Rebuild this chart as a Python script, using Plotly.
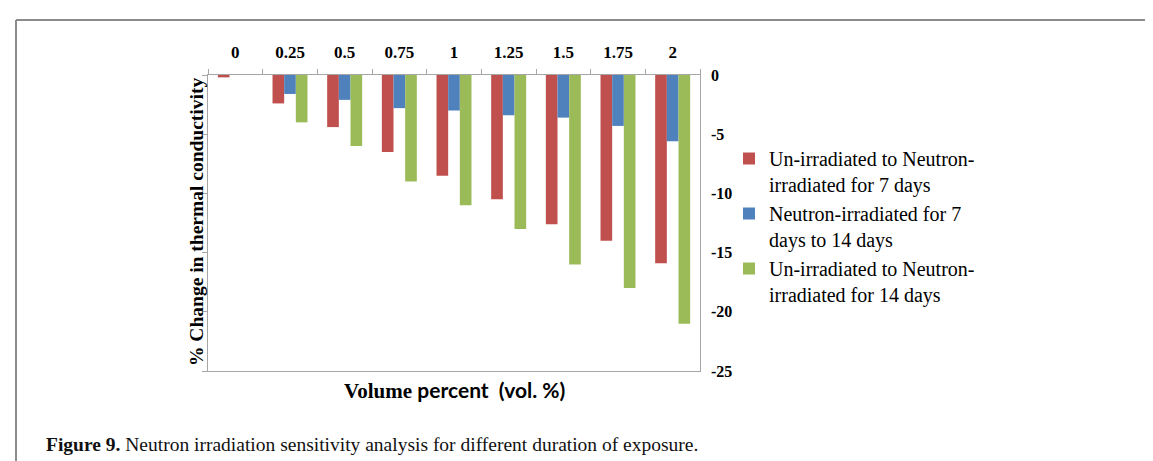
import plotly.graph_objects as go

categories = ["0", "0.25", "0.5", "0.75", "1", "1.25", "1.5", "1.75", "2"]
unirr_to_7d = [-0.2, -2.4, -4.4, -6.5, -8.5, -10.5, -12.6, -14.0, -15.9]
d7_to_14d = [0.0, -1.6, -2.1, -2.8, -3.0, -3.4, -3.6, -4.3, -5.6]
unirr_to_14d = [0.0, -4.0, -6.0, -9.0, -11.0, -13.0, -16.0, -18.0, -21.0]
y_ticks = [0, -5, -10, -15, -20, -25]
y_tick_text = ["0", "-5", "-10", "-15", "-20", "-25"]

names = [
    "Un-irradiated to Neutron-<br>irradiated for 7 days",
    "Neutron-irradiated for 7<br>days to 14 days",
    "Un-irradiated to Neutron-<br>irradiated for 14 days",
]
colors = ["#C0504D", "#4F81BD", "#9BBB59"]

W, H = 1153, 461
L, R, T, B = 200, 692, 67, 363
pw, ph = R - L, B - T

def px(x):
    return (x - L) / pw

def py(y):
    return 1 - (y - T) / ph

fig = go.Figure()
for vals, name, col in zip([unirr_to_7d, d7_to_14d, unirr_to_14d], names, colors):
    fig.add_trace(go.Bar(x=categories, y=vals, name=name, marker_color=col,
                         marker_line_width=0))
fig.add_trace(go.Scatter(x=[None], y=[None], yaxis="y2", showlegend=False,
                         hoverinfo="skip"))

serif = "Liberation Serif"
axis_col = "#A6A6A6"

fig.update_layout(
    width=W, height=H,
    margin=dict(l=L, r=W - R, t=T, b=H - B),
    paper_bgcolor="white", plot_bgcolor="white",
    barmode="group", bargap=0.36, bargroupgap=0,
    font=dict(family=serif, color="black"),
    xaxis=dict(side="top", type="category", showline=True, linecolor=axis_col,
               linewidth=1, mirror=True, ticks="outside", tickson="boundaries",
               ticklen=5, tickcolor=axis_col, showgrid=False,
               ticklabelstandoff=9,
               tickfont=dict(family=serif, size=17, weight="bold", color="black")),
    yaxis=dict(range=[-25, 0], showline=True, linecolor=axis_col, linewidth=1,
               mirror=True, ticks="outside", ticklen=5, tickcolor=axis_col,
               tickvals=y_ticks, showticklabels=False, showgrid=False,
               zeroline=False),
    yaxis2=dict(range=[-25, 0], overlaying="y", side="right", anchor="x",
                tickvals=y_ticks, ticktext=y_tick_text, ticks="",
                showline=False, showgrid=False,
                zeroline=False, ticklabelstandoff=10,
                tickfont=dict(family=serif, size=16, weight="bold", color="black")),
    legend=dict(x=px(721), y=py(131), xanchor="left", yanchor="top",
                valign="top", font=dict(family=serif, size=20, color="black"),
                bgcolor="rgba(0,0,0,0)", tracegroupgap=0),
    showlegend=True,
)

fig.add_annotation(
    text="% Change in thermal conductivity", textangle=-90,
    xref="paper", yref="paper", x=px(188), y=py(214),
    xanchor="center", yanchor="middle", showarrow=False,
    font=dict(family=serif, size=19.5, weight="bold", color="black"),
)
fig.add_annotation(
    text="<b>Volume</b> <span style='font-family:Lato'><b>percent  (vol. %)</b></span>",
    xref="paper", yref="paper", x=px(446), y=py(382),
    xanchor="center", yanchor="middle", showarrow=False,
    font=dict(family=serif, size=21, color="black"),
)
fig.add_annotation(
    text="<b>Figure 9.</b> Neutron irradiation sensitivity analysis for different duration of exposure.",
    xref="paper", yref="paper", x=px(36), y=py(436),
    xanchor="left", yanchor="middle", showarrow=False,
    font=dict(family=serif, size=19.5, color="#111111"),
)

frame_col = "#8C8C8C"
fig.add_shape(type="line", xref="paper", yref="paper",
              x0=px(8), x1=px(W), y0=py(12), y1=py(12),
              line=dict(color=frame_col, width=2))
fig.add_shape(type="line", xref="paper", yref="paper",
              x0=px(8), x1=px(8), y0=py(12), y1=py(H),
              line=dict(color=frame_col, width=2))

fig.write_html("out.html")
